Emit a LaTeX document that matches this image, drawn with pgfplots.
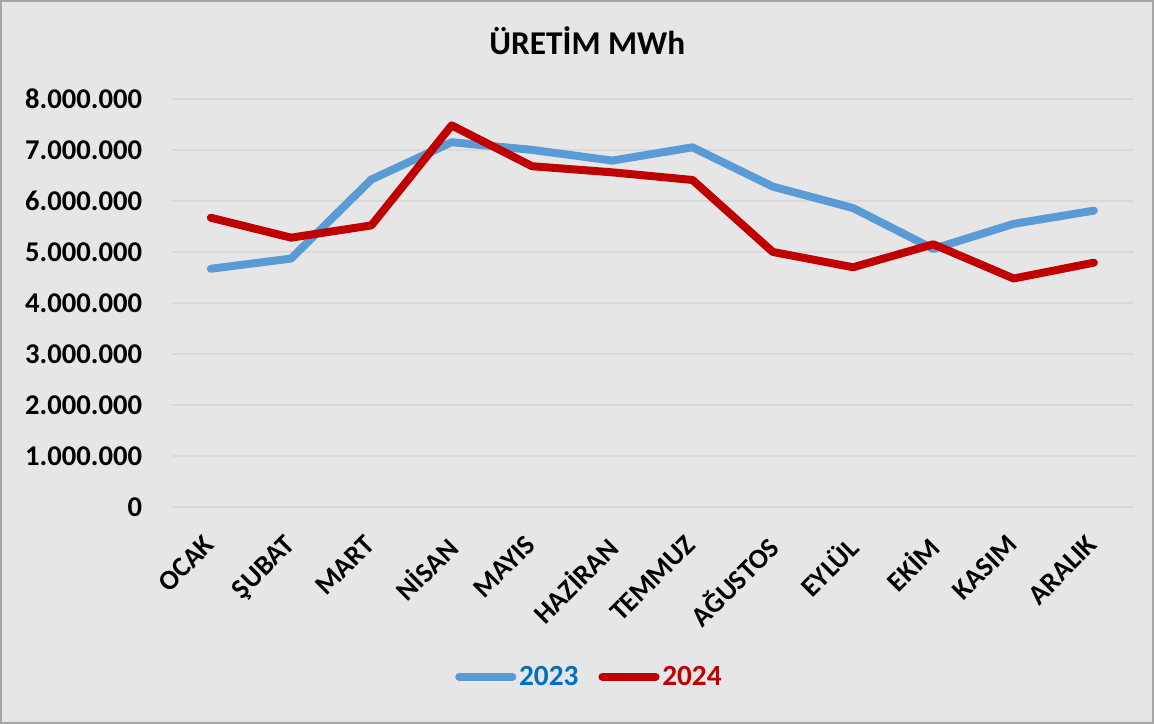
\documentclass[border=0pt]{standalone}
\usepackage{fontspec}
\setmainfont{Carlito}
\usepackage{pgfplots}
\pgfplotsset{compat=1.18}
\definecolor{bg}{HTML}{E7E6E6}
\definecolor{c23}{HTML}{5B9BD5}
\definecolor{c24}{HTML}{C00000}
\definecolor{t23}{HTML}{0070C0}
\definecolor{gridc}{HTML}{D9D9D9}
\definecolor{framec}{HTML}{A6A6A6}
\begin{document}
\begin{tikzpicture}
\draw[use as bounding box, fill=bg, draw=framec, line width=1.5pt] (0,0) rectangle (865.5pt,542.25pt);
\begin{axis}[
  at={(127.5pt,162pt)}, anchor=south west,
  scale only axis, width=723.75pt, height=306.75pt,
  xmin=-0.5, xmax=11.5, ymin=0, ymax=8000000,
  axis line style={draw=none}, tick style={draw=none},
  ytick={0,1000000,2000000,3000000,4000000,5000000,6000000,7000000,8000000},
  ymajorgrids, grid style={gridc, line width=1pt},
  xtick={0,1,2,3,4,5,6,7,8,9,10,11},
  xticklabels={OCAK,ŞUBAT,MART,NİSAN,MAYIS,HAZİRAN,TEMMUZ,AĞUSTOS,EYLÜL,EKİM,KASIM,ARALIK},
  xticklabel style={xshift=-6pt, yshift=-15pt, rotate=45, anchor=north east, font=\fontsize{21}{25}\selectfont\bfseries},
  yticklabel style={font=\fontsize{21.5}{25}\selectfont\bfseries, xshift=-18pt},
  scaled y ticks=false,
  /pgf/number format/.cd, fixed, precision=0, 1000 sep={.}, assume math mode=true, /pgfplots/.cd,
  title={ÜRETİM MWh},
  title style={at={(0.4325,1.123)}, anchor=center, font=\fontsize{25}{30}\selectfont\bfseries},
  legend columns=2,
  legend style={at={(0.435,-0.4157)}, anchor=center, draw=none, fill=none,
    font=\fontsize{22}{26}\selectfont\bfseries,
    /tikz/every even column/.append style={column sep=13pt}},
  legend image code/.code={\draw[#1, line cap=round] (0pt,0pt) -- (40pt,0pt);},
]
\addplot[c23, line width=6pt, line cap=round, line join=round] coordinates {
(0,4670000) (1,4870000) (2,6420000) (3,7150000) (4,7000000) (5,6790000)
(6,7050000) (7,6280000) (8,5860000) (9,5060000) (10,5550000) (11,5810000)};
\addlegendentry{\textcolor{t23}{2023}}
\addplot[c24, line width=6pt, line cap=round, line join=round] coordinates {
(0,5670000) (1,5280000) (2,5520000) (3,7480000) (4,6680000) (5,6560000)
(6,6410000) (7,5000000) (8,4700000) (9,5150000) (10,4480000) (11,4790000)};
\addlegendentry{\textcolor{c24}{2024}}
\end{axis}
\end{tikzpicture}
\end{document}
